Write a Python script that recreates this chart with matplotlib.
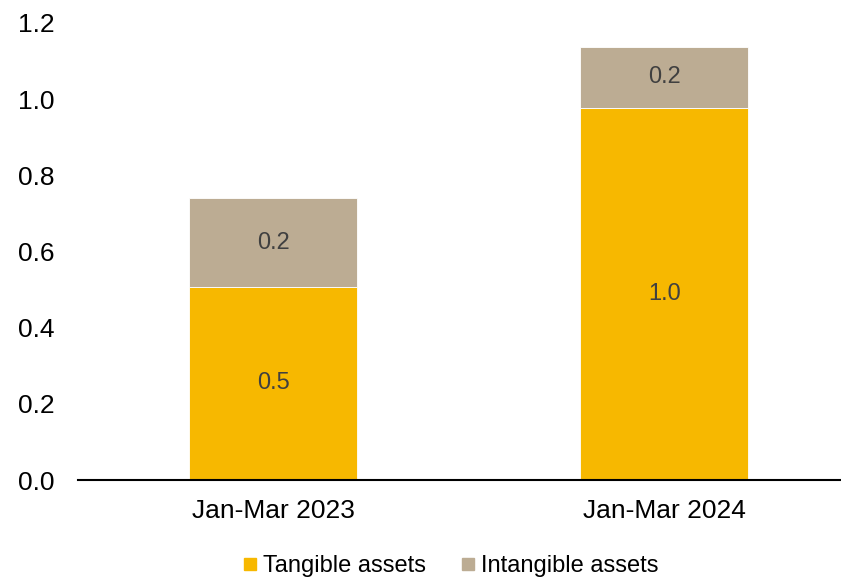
import numpy as np
import matplotlib.pyplot as plt
from matplotlib.lines import Line2D

plt.rcParams['font.family'] = ['Liberation Sans', 'DejaVu Sans']

# data
periods = ['Jan-Mar 2023', 'Jan-Mar 2024']
tangible = [0.507, 0.977]
intangible = [0.233, 0.16]
yticks = [0.0, 0.2, 0.4, 0.6, 0.8, 1.0, 1.2]

c_tan = '#F7B800'
c_int = '#BCAC93'

fig = plt.figure(figsize=(8.41, 5.77), dpi=100)
ax = fig.add_axes([78/841, 97/577, 763/841, 457/577])

x = np.arange(len(periods))
w = 0.43
ax.bar(x, tangible, width=w, color=c_tan, edgecolor='white', linewidth=0.6)
ax.bar(x, intangible, width=w, bottom=tangible, color=c_int, edgecolor='white', linewidth=0.6)

for i in range(len(periods)):
    ax.text(x[i], tangible[i] / 2, f'{tangible[i]:.1f}', ha='center', va='center',
            fontsize=17, color='#404040')
    ax.text(x[i], tangible[i] + intangible[i] / 2, f'{intangible[i]:.1f}', ha='center',
            va='center', fontsize=17, color='#404040')

ax.set_xlim(-0.499, 1.452)
ax.set_ylim(0, 1.2)
ax.set_yticks(yticks)
ax.set_yticklabels([f'{v:.1f}' for v in yticks], fontsize=19)
ax.set_xticks(x)
ax.set_xticklabels(periods, fontsize=19)
ax.tick_params(axis='both', length=0)
ax.tick_params(axis='y', pad=17)
ax.tick_params(axis='x', pad=14)
for s in ['top', 'right', 'left']:
    ax.spines[s].set_visible(False)
ax.spines['bottom'].set_linewidth(1.5)

handles = [Line2D([], [], marker='s', linestyle='', markersize=8.5, color=c_tan),
           Line2D([], [], marker='s', linestyle='', markersize=8.5, color=c_int)]
fig.legend(handles, ['Tangible assets', 'Intangible assets'], loc='center',
           bbox_to_anchor=(449/841, 1 - 566/577), ncol=2, frameon=False, fontsize=17,
           handletextpad=0.1, columnspacing=1.3, handlelength=0.9)

fig.savefig('out.png', dpi=100)
